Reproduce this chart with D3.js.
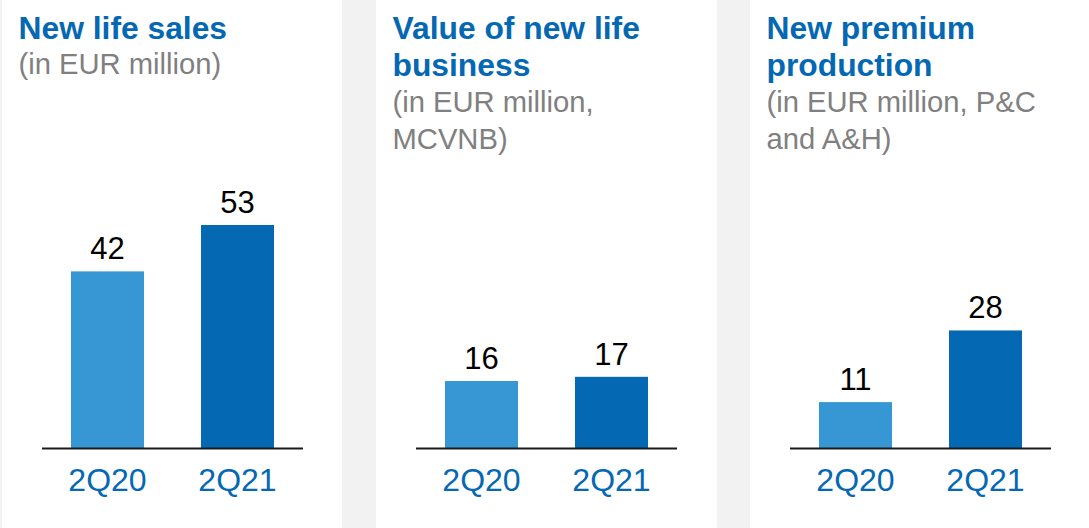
<!DOCTYPE html>
<html>
<head>
<meta charset="utf-8">
<script src="https://cdn.jsdelivr.net/npm/d3@7"></script>
<style>
  html, body { margin: 0; padding: 0; background: #f2f2f2; }
  svg { display: block; }
  text { font-family: "Liberation Sans", Arial, sans-serif; }
</style>
</head>
<body>
<svg id="chart" width="1089" height="528"></svg>
<script>
const categories = ["2Q20", "2Q21"];
const newLifeSales = [42, 53];
const valueNewLifeBusiness = [16, 17];
const newPremiumProduction = [11, 28];
const panelTitles = [["New life sales"], ["Value of new life", "business"], ["New premium", "production"]];
const panelSubtitles = [["(in EUR million)"], ["(in EUR million,", "MCVNB)"], ["(in EUR million, P&C", "and A&H)"]];
const panelSeries = [newLifeSales, valueNewLifeBusiness, newPremiumProduction];

const W = 1089, H = 528;
const svg = d3.select("#chart");
svg.append("rect").attr("width", W).attr("height", H).attr("fill", "#f2f2f2");

const panelLefts = [2, 376, 750];
const panelRights = [342, 717, 1089];
const baselineY = 448.5;
const y = d3.scaleLinear().domain([0, 53]).range([baselineY, 225]);

const blue = "#0568b3";
const barColors = ["#3796d4", "#0568b3"];

panelSeries.forEach((vals, p) => {
  const left = panelLefts[p];
  const g = svg.append("g");
  g.append("rect").attr("x", left).attr("y", 0)
    .attr("width", panelRights[p] - left).attr("height", H).attr("fill", "#ffffff");

  const tx = left + 16.5;
  let yy = 38.5;
  panelTitles[p].forEach((line, i) => {
    g.append("text").attr("x", tx).attr("y", yy + 37.5 * i)
      .attr("font-size", 31.8).attr("font-weight", "bold").attr("fill", blue).text(line);
  });
  const subStart = yy + 37.5 * (panelTitles[p].length - 1) + 35.5;
  panelSubtitles[p].forEach((line, j) => {
    g.append("text").attr("x", tx).attr("y", subStart + 37 * j)
      .attr("font-size", 29.2).attr("fill", "#808080").text(line);
  });

  const x = d3.scaleBand().domain(categories)
    .range([left + 40, left + 301]).paddingInner(0.4385).paddingOuter(0.223);

  g.selectAll("rect.bar").data(vals).enter().append("rect")
    .attr("class", "bar")
    .attr("x", (d, i) => x(categories[i]))
    .attr("y", d => y(d))
    .attr("width", x.bandwidth())
    .attr("height", d => baselineY - y(d))
    .attr("fill", (d, i) => barColors[i]);

  g.selectAll("text.val").data(vals).enter().append("text")
    .attr("class", "val")
    .attr("x", (d, i) => x(categories[i]) + x.bandwidth() / 2)
    .attr("y", d => y(d) - 12)
    .attr("text-anchor", "middle").attr("font-size", 31).attr("fill", "#000")
    .text(d => d);

  const axis = d3.axisBottom(x).tickSize(0).tickPadding(0);
  const ag = g.append("g").attr("transform", `translate(0,${baselineY})`).call(axis);
  ag.select(".domain").attr("stroke", "#1a1a1a").attr("stroke-width", 2)
    .attr("d", `M${left + 40},0H${left + 301}`);
  ag.selectAll(".tick text").attr("font-size", 32).attr("fill", blue)
    .attr("font-family", "Liberation Sans, Arial, sans-serif")
    .attr("dy", null).attr("y", 42.5);
});
</script>
</body>
</html>
